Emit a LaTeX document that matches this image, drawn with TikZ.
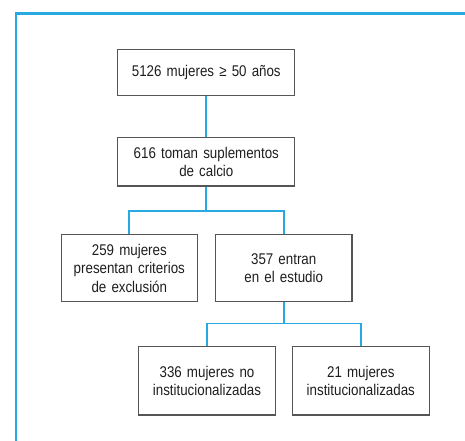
\documentclass[tikz,border=0pt]{standalone}
\usepackage{fontspec}
\setmainfont{Liberation Sans}[FakeStretch=0.86, WordSpace=0.8]
\usepackage{xcolor}
\usepackage{tikz}
\usetikzlibrary{shapes,arrows}
\definecolor{frameblue}{RGB}{41,169,225}
\definecolor{boxgray}{RGB}{85,85,85}
\definecolor{textgray}{RGB}{30,30,30}
\tikzstyle{box} = [rectangle, draw=boxgray, line width=1.1pt, text=textgray,
    inner sep=0pt, text width=177pt, align=center, minimum height=46pt,
    font=\fontsize{15.5}{18.3}\selectfont]
\tikzstyle{smallbox} = [box, text width=136.5pt, minimum height=67pt]
\tikzstyle{line} = [draw=frameblue, line width=1.7pt]
\tikzstyle{frame} = [draw=frameblue, line width=2.4pt]

\begin{document}
\begin{tikzpicture}[x=1pt, y=1pt, node distance=2cm]
    \useasboundingbox (0,0) rectangle (465,-440);
    \begin{scope}
    \clip (0,0) rectangle (465,-440);
    \path [frame] (470,-13.3) -- (15.7,-13.3) -- (15.7,-450);
    \end{scope}
    % Place nodes
    \node [box] (women) at (206.3,-72.2) {5126 mujeres ≥ 50 años};
    \node [box, below of=women, node distance=89.6pt, minimum height=48.3pt] (calcium) {616 toman suplementos\\de calcio};
%
    \node [smallbox, below of=calcium, node distance=106.5pt, xshift=-77pt] (excluded) {259 mujeres\\presentan criterios\\de exclusión};
    \node [smallbox, right of=excluded, node distance=154.4pt] (study) {357 entran\\en el estudio};
    \node [smallbox, below of=study, node distance=112.5pt, xshift=-76.7pt, minimum height=68.3pt] (noninst) {336 mujeres no\\institucionalizadas};
    \node [smallbox, right of=noninst, node distance=153.8pt, minimum height=68.3pt] (inst) {21 mujeres\\institucionalizadas};
    % Branch points
    \path (calcium.south) ++(0,-24.7) coordinate (splitA);
    \path (study.south) ++(0,-21) coordinate (splitB);
    \path [line] (women) -- (calcium);
    \path [line] (calcium.south) -- (splitA);
    \path [line] (splitA) -| (excluded.north);
    \path [line] (splitA) -| (study.north);

    \path [line] (study.south) -- (splitB);
    \path [line] (splitB) -| (noninst.north);
    \path [line] (splitB) -| (inst.north);
\end{tikzpicture}
\end{document}
